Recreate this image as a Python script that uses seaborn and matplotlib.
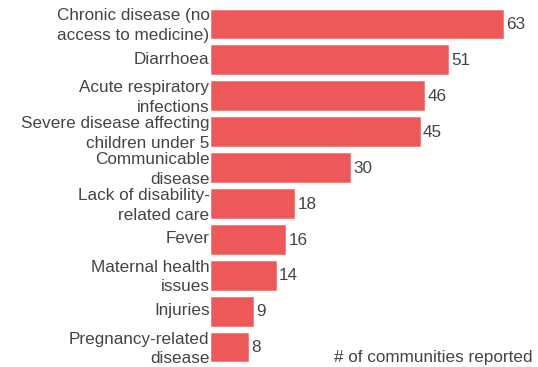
import matplotlib
matplotlib.use("Agg")
import matplotlib.pyplot as plt
import matplotlib.transforms as mtransforms
import seaborn as sns
import pandas as pd

categories = [
    "Chronic disease (no\naccess to medicine)",
    "Diarrhoea",
    "Acute respiratory\ninfections",
    "Severe disease affecting\nchildren under 5",
    "Communicable\ndisease",
    "Lack of disability-\nrelated care",
    "Fever",
    "Maternal health\nissues",
    "Injuries",
    "Pregnancy-related\ndisease",
]
values = [63, 51, 46, 45, 30, 18, 16, 14, 9, 8]
axis_title = "# of communities reported"

sns.set_theme(style="white")
plt.rcParams["font.family"] = ["Liberation Sans", "DejaVu Sans"]

df = pd.DataFrame({"cat": categories, "val": values})

W, H = 538, 367
FS = 12.3
fig = plt.figure(figsize=(W / 100, H / 100), dpi=100)
ax = fig.add_axes([211 / W, 1 - 365 / H, 1 - 211 / W, 359 / H])

sns.barplot(data=df, y="cat", x="val", orient="h", color="#EE5859",
            saturation=1, width=0.8, ax=ax, edgecolor="#F07070", linewidth=0.5)

ax.set_xlim(0, 70.5)
ax.set_ylim(9.5, -0.5)
ax.set_xlabel("")
ax.set_ylabel("")
ax.set_xticks([])
for s in ax.spines.values():
    s.set_visible(False)

ax.tick_params(axis="y", length=0, pad=1, labelsize=FS, labelcolor="#444444")
shift = mtransforms.ScaledTranslation(0, 2 / 100, fig.dpi_scale_trans)
for lbl in ax.get_yticklabels():
    lbl.set_linespacing(1.38)
    lbl.set_transform(lbl.get_transform() + shift)

for i, v in enumerate(values):
    ax.text(v + 0.7, i + 0.02, str(v), va="center", ha="left", fontsize=FS, color="#444444")

fig.text(533 / W, 1 - 362 / H, axis_title, ha="right", va="baseline",
         fontsize=FS, color="#444444")

fig.savefig("out.png", dpi=100)
